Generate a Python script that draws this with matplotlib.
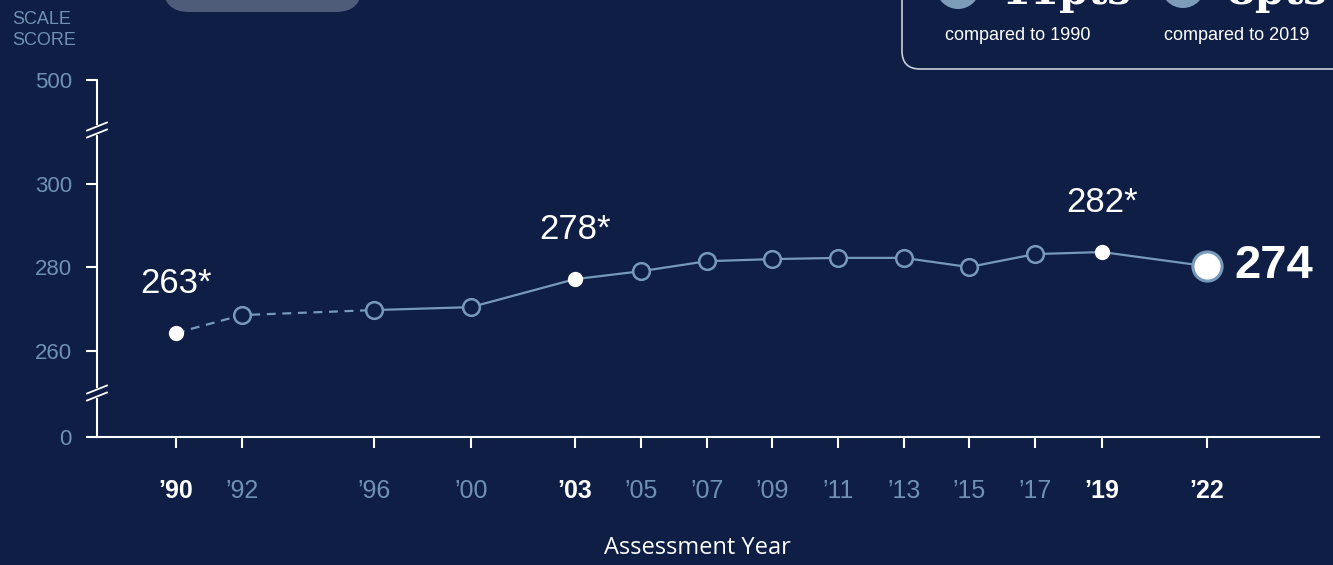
import matplotlib
matplotlib.use("Agg")
import matplotlib.pyplot as plt
from matplotlib.patches import FancyBboxPatch, Circle

# ---- data (scores) ----
year_labels = ["’90", "’92", "’96", "’00", "’03", "’05", "’07", "’09",
               "’11", "’13", "’15", "’17", "’19", "’22"]
scores = [264.2, 268.5, 269.7, 270.4, 277.1, 279.0, 281.4, 281.9,
          282.2, 282.2, 280.0, 283.1, 283.6, 280.2]
point_labels = ["263*", "", "", "", "278*", "", "", "", "", "", "", "", "282*", "274"]
highlight = [True, False, False, False, True, False, False, False,
             False, False, False, False, True, True]
# horizontal slot of each assessment on the axis (not evenly spaced in the original)
x_slot = [0, 2, 6, 8.94, 12.09, 14.09, 16.09, 18.06, 20.06, 22.06, 24.03, 26.03, 28.06, 31.24]

y_ticks = [239.3, 260, 280, 300, 324.8]
y_tick_labels = ["0", "260", "280", "300", "500"]

BG = "#0e1e44"
LINE = "#7799ba"
GREY = "#7092b2"
plt.rcParams['font.family'] = ['Liberation Sans', 'DejaVu Sans']

fig = plt.figure(figsize=(13.33, 5.65), dpi=100, facecolor=BG)
ax = fig.add_axes([97/1333, 1-437/565, (1319-97)/1333, (437-80)/565])
ax.set_facecolor("none")
ax.set_xlim(-2.39, 34.64)
ax.set_ylim(239.3, 324.8)

# dashed part for the early years, solid afterwards
ax.plot(x_slot[:3], scores[:3], color=LINE, lw=1.6, ls=(0, (4, 3)), zorder=2)
ax.plot(x_slot[2:], scores[2:], color=LINE, lw=1.6, zorder=2)

for i in range(len(scores)):
    if i == len(scores) - 1:
        ax.plot(x_slot[i], scores[i], "o", ms=21, mfc="white", mec=LINE, mew=2.2, zorder=4)
    elif highlight[i]:
        ax.plot(x_slot[i], scores[i], "o", ms=11, mfc="white", mec="white", mew=0, zorder=4)
    else:
        ax.plot(x_slot[i], scores[i], "o", ms=12, mfc=BG, mec=LINE, mew=1.8, zorder=3)

for i, lab in enumerate(point_labels):
    if not lab:
        continue
    if i == len(scores) - 1:
        ax.annotate(lab, (x_slot[i], scores[i]), xytext=(20, 0), textcoords="offset points",
                    ha="left", va="center", fontsize=34, fontweight="bold", color="white")
    else:
        ax.annotate(lab, (x_slot[i], scores[i]), xytext=(0, 36), textcoords="offset points",
                    ha="center", va="center", fontsize=25, color="white")

for s in ["top", "right"]:
    ax.spines[s].set_visible(False)
for s in ["left", "bottom"]:
    ax.spines[s].set_color("white")
    ax.spines[s].set_linewidth(1.5)

ax.set_yticks(y_ticks)
ax.set_yticklabels(y_tick_labels)
ax.set_xticks(x_slot)
ax.set_xticklabels(year_labels)
ax.tick_params(axis="y", colors="white", length=8, width=1.5, pad=10, labelsize=16, labelcolor=GREY)
ax.tick_params(axis="x", colors="white", length=8, width=1.5, pad=22, labelsize=18)
for lab, hl in zip(ax.get_xticklabels(), highlight):
    if hl:
        lab.set_color("white")
        lab.set_fontweight("bold")
    else:
        lab.set_color(GREY)

fig.text(697/1333, 1-548/565, "Assessment Year", ha="center", va="center",
         fontsize=17, color="white", family="Open Sans")
fig.text(12/1333, 1-30/565, "SCALE\nSCORE", ha="left", va="center",
         fontsize=13, color=GREY, linespacing=1.25)

# overlay in pixel coordinates for decorations
deco = fig.add_axes([0, 0, 1, 1], zorder=5)
deco.set_xlim(0, 1333)
deco.set_ylim(565, 0)
deco.axis("off")
deco.patch.set_alpha(0)

# axis break marks
for yb in [130, 393]:
    deco.plot([97, 97], [yb - 5, yb + 5], color=BG, lw=3, solid_capstyle="butt")
    for dy in [-3.5, 3.5]:
        deco.plot([87, 107], [yb + dy + 4, yb + dy - 4], color="white", lw=1.3)

# cropped panels at the top
deco.add_patch(FancyBboxPatch((163, -60), 199, 72, boxstyle="round,pad=0,rounding_size=26",
                              fc="#4e5c79", ec="none"))
deco.add_patch(FancyBboxPatch((902, -60), 480, 129, boxstyle="round,pad=0,rounding_size=18",
                              fc="none", ec="#c9cfdb", lw=1.2))
deco.add_patch(Circle((958, -13), 22, fc="#7c9cba", ec="none"))
deco.add_patch(Circle((1183, -14), 22, fc="#7c9cba", ec="none"))
deco.text(1002, 4, "11pts", ha="left", va="baseline", fontsize=30, fontweight="bold",
          color="white", family="DejaVu Serif")
deco.text(1227, 4, "8pts", ha="left", va="baseline", fontsize=30, fontweight="bold",
          color="white", family="DejaVu Serif")
deco.text(1018, 35, "compared to 1990", ha="center", va="center", fontsize=13, color="white")
deco.text(1237, 35, "compared to 2019", ha="center", va="center", fontsize=13, color="white")

fig.savefig("out.png", dpi=100, facecolor=BG)
